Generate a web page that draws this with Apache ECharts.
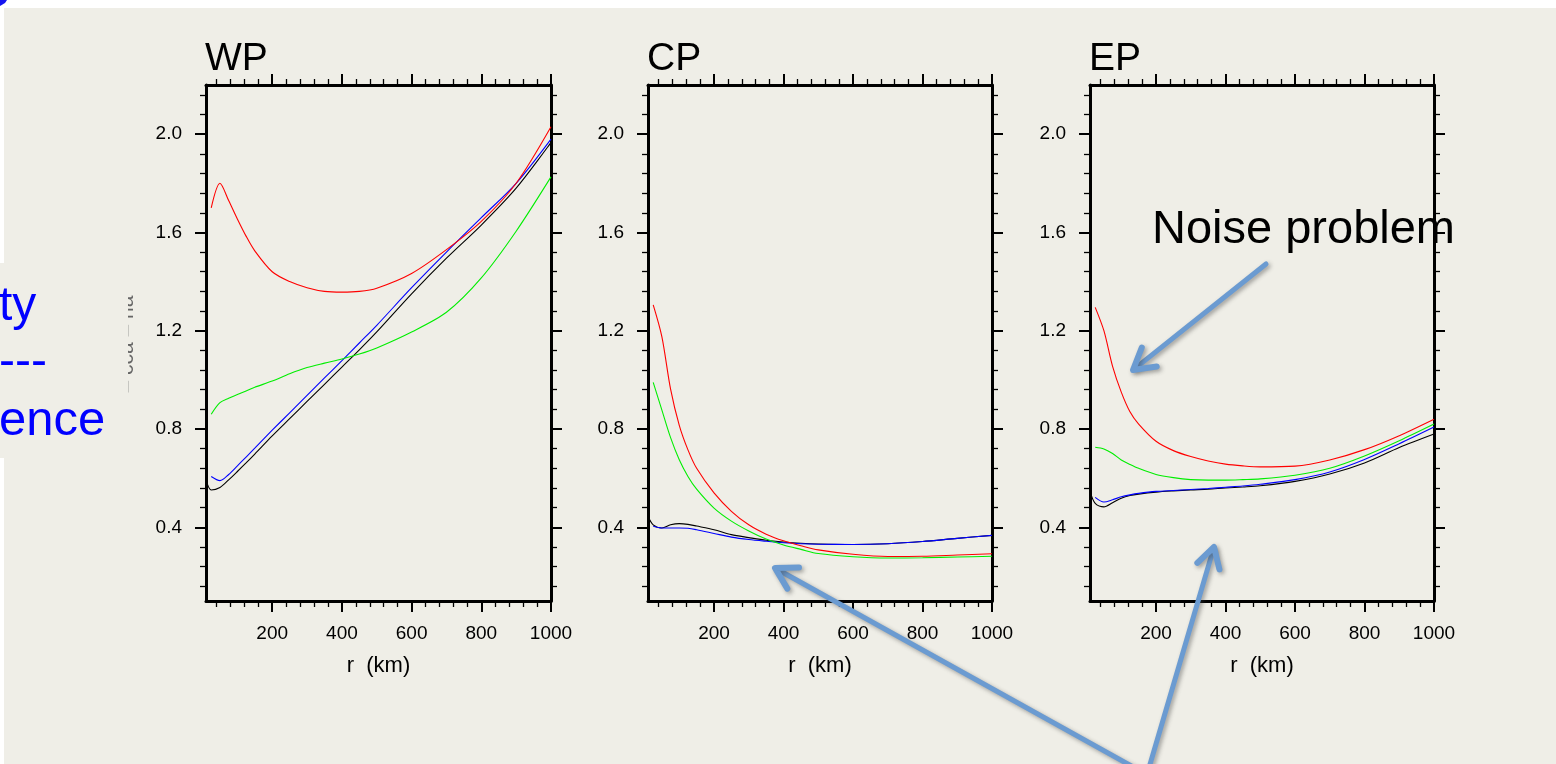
<!DOCTYPE html>
<html>
<head>
<meta charset="utf-8">
<script src="https://cdn.jsdelivr.net/npm/echarts@6/dist/echarts.min.js"></script>
<style>
  html, body { margin: 0; padding: 0; background: #EFEEE7; }
  #chart { width: 1556px; height: 764px; }
</style>
</head>
<body>
<div id="chart"></div>
<script>
// Radial profiles (r in km) for the three basins
const radiusKm = [10, 25, 50, 75, 100, 125, 150, 200, 250, 300, 350, 400, 450, 500, 600, 700, 800, 900, 1000];

const wpRed   = [null, 1.70, 1.80, 1.73, 1.655, 1.585, 1.525, 1.44, 1.40, 1.375, 1.36, 1.357, 1.36, 1.373, 1.433, 1.53, 1.645, 1.80, 2.03];
const wpGreen = [null, 0.86, 0.907, 0.925, 0.94, 0.955, 0.97, 0.995, 1.025, 1.05, 1.068, 1.085, 1.105, 1.13, 1.195, 1.275, 1.415, 1.605, 1.826];
const wpBlue  = [null, 0.607, 0.59, 0.615, 0.65, 0.686, 0.722, 0.795, 0.866, 0.937, 1.008, 1.078, 1.15, 1.222, 1.375, 1.52, 1.66, 1.80, 1.98];
const wpBlack = [0.594, 0.552, 0.562, 0.593, 0.627, 0.662, 0.698, 0.772, 0.842, 0.912, 0.982, 1.052, 1.122, 1.195, 1.35, 1.495, 1.63, 1.78, 1.966];

const cpRed   = [null, 1.305, 1.175, 0.962, 0.815, 0.715, 0.64, 0.54, 0.465, 0.41, 0.372, 0.345, 0.325, 0.308, 0.29, 0.281, 0.282, 0.287, 0.292];
const cpGreen = [null, 0.99, 0.877, 0.765, 0.675, 0.607, 0.555, 0.478, 0.425, 0.385, 0.352, 0.328, 0.31, 0.293, 0.28, 0.275, 0.276, 0.279, 0.282];
const cpBlue  = [null, 0.404, 0.397, 0.397, 0.397, 0.396, 0.39, 0.375, 0.36, 0.35, 0.343, 0.337, 0.333, 0.331, 0.33, 0.333, 0.342, 0.355, 0.367];
const cpBlack = [0.445, 0.41, 0.397, 0.41, 0.415, 0.412, 0.405, 0.39, 0.37, 0.358, 0.347, 0.34, 0.335, 0.332, 0.33, 0.333, 0.342, 0.355, 0.367];

const epRed   = [null, 1.295, 1.20, 1.055, 0.95, 0.87, 0.82, 0.75, 0.712, 0.688, 0.67, 0.657, 0.65, 0.646, 0.649, 0.674, 0.716, 0.773, 0.84];
const epGreen = [null, 0.726, 0.719, 0.70, 0.674, 0.656, 0.64, 0.615, 0.602, 0.594, 0.592, 0.592, 0.594, 0.597, 0.612, 0.64, 0.69, 0.752, 0.82];
const epBlue  = [null, 0.522, 0.503, 0.512, 0.524, 0.532, 0.538, 0.546, 0.55, 0.554, 0.558, 0.563, 0.568, 0.575, 0.594, 0.625, 0.676, 0.74, 0.808];
const epBlack = [0.546, 0.497, 0.483, 0.50, 0.518, 0.529, 0.535, 0.543, 0.548, 0.552, 0.555, 0.56, 0.564, 0.569, 0.587, 0.617, 0.662, 0.725, 0.78];

const panelNames = ['WP', 'CP', 'EP'];
const xMajorTicks = [200, 400, 600, 800, 1000];
const xMinorTicks = [40, 80, 120, 160, 240, 280, 320, 360, 440, 480, 520, 560, 640, 680, 720, 760, 840, 880, 920, 960];
const yMajorTicks = [0.4, 0.8, 1.2, 1.6, 2.0];
const yMinorTicks = [0.16, 0.24, 0.32, 0.48, 0.56, 0.64, 0.72, 0.88, 0.96, 1.04, 1.12, 1.28, 1.36, 1.44, 1.52, 1.68, 1.76, 1.84, 1.92, 2.08, 2.16];

const panelSeries = [
  { black: wpBlack, blue: wpBlue, green: wpGreen, red: wpRed },
  { black: cpBlack, blue: cpBlue, green: cpGreen, red: cpRed },
  { black: epBlack, blue: epBlue, green: epGreen, red: epRed }
];
const lineColors = { black: '#000000', blue: '#0000FF', green: '#00EE00', red: '#FF0000' };

const FONT = '"Liberation Sans", Arial, Helvetica, sans-serif';
const BG = '#EFEEE7';
const ARROW = '#6B9BD1';

const gridLeft = [206, 648, 1090];
const gridWidth = [345, 344, 344];

const grids = gridLeft.map((l, i) => ({ left: l, top: 85, width: gridWidth[i], height: 516, containLabel: false }));

function tickAxis(kind, g, position, major) {
  const isX = kind === 'x';
  const ax = {
    gridIndex: g,
    type: 'value',
    position: position,
    min: isX ? 10 : 0.1,
    max: isX ? 1000 : 2.2,
    splitLine: { show: false },
    axisLine: { show: major, onZero: false, lineStyle: { color: '#000', width: 3 } },
    axisTick: {
      show: true,
      inside: false,
      customValues: major ? (isX ? xMajorTicks : yMajorTicks) : (isX ? xMinorTicks : yMinorTicks),
      length: major ? 11 : 6,
      lineStyle: { color: '#000', width: major ? 2 : 1.3 }
    },
    axisLabel: { show: false }
  };
  const labelled = major && (position === 'bottom' || position === 'left');
  if (labelled) {
    ax.axisLabel = {
      show: true,
      customValues: isX ? xMajorTicks : yMajorTicks,
      margin: isX ? 23 : 24,
      fontSize: 19,
      fontFamily: FONT,
      color: '#000',
      formatter: isX ? (v) => String(Math.round(v)) : (v) => v.toFixed(1)
    };
  }
  if (isX && labelled) {
    ax.name = 'r  (km)';
    ax.nameLocation = 'middle';
    ax.nameGap = 54;
    ax.nameTextStyle = { fontSize: 22, fontFamily: FONT, color: '#000' };
  }
  return ax;
}

const xAxes = [], yAxes = [], series = [];
for (let g = 0; g < 3; g++) {
  xAxes.push(tickAxis('x', g, 'bottom', true), tickAxis('x', g, 'bottom', false),
             tickAxis('x', g, 'top', true), tickAxis('x', g, 'top', false));
  yAxes.push(tickAxis('y', g, 'left', true), tickAxis('y', g, 'left', false),
             tickAxis('y', g, 'right', true), tickAxis('y', g, 'right', false));
  ['black', 'blue', 'green', 'red'].forEach((c) => {
    const vals = panelSeries[g][c];
    series.push({
      name: panelNames[g] + ' ' + c,
      type: 'line',
      xAxisIndex: g * 4,
      yAxisIndex: g * 4,
      data: radiusKm.map((r, i) => [r, vals[i]]).filter((p) => p[1] !== null),
      symbol: 'none',
      smooth: 0.3,
      clip: true,
      silent: true,
      lineStyle: { color: lineColors[c], width: 1.1 }
    });
  });
}

// arrow with an open chevron head
function arrow(tail, tip, headLen) {
  const dx = tail[0] - tip[0], dy = tail[1] - tip[1];
  const len = Math.hypot(dx, dy);
  const ux = dx / len, uy = dy / len;
  const a = Math.PI / 6;
  const arm = (s) => [tip[0] + headLen * (ux * Math.cos(s * a) - uy * Math.sin(s * a)),
                      tip[1] + headLen * (ux * Math.sin(s * a) + uy * Math.cos(s * a))];
  const style = { stroke: ARROW, lineWidth: 5, lineCap: 'round', lineJoin: 'round', fill: null,
                  shadowBlur: 4, shadowColor: 'rgba(60,60,60,0.45)', shadowOffsetX: 2, shadowOffsetY: 2 };
  return [
    { type: 'polyline', z: 20, shape: { points: [tail, [tip[0] + ux * 3, tip[1] + uy * 3]] }, style: style },
    { type: 'polyline', z: 20, shape: { points: [arm(1), tip, arm(-1)] }, style: Object.assign({}, style, { lineWidth: 6 }) }
  ];
}

const graphics = [
  // white page margins
  { type: 'rect', z: 1, shape: { x: 0, y: 0, width: 1556, height: 8 }, style: { fill: '#FFFFFF' } },
  { type: 'rect', z: 1, shape: { x: 0, y: 0, width: 4, height: 263 }, style: { fill: '#FFFFFF' } },
  { type: 'rect', z: 1, shape: { x: 0, y: 458, width: 4, height: 306 }, style: { fill: '#FFFFFF' } },
  { type: 'polygon', z: 2, shape: { points: [[0, 0], [7, 0], [5, 3], [0, 6]] }, style: { fill: '#1515F0' } },
  // partly hidden vertical caption
  { type: 'text', z: 3, x: 138, y: 344, rotation: Math.PI / 2,
    style: { text: '– cca – na', font: '21px ' + FONT, fill: '#666', align: 'center', verticalAlign: 'bottom' } },
  { type: 'rect', z: 4, shape: { x: 0, y: 263, width: 128, height: 195 }, style: { fill: BG } },
  // blue side text
  { type: 'text', z: 5, x: -1, y: 307, style: { text: 'ty', font: '48px ' + FONT, fill: '#0000FF', align: 'left', verticalAlign: 'middle' } },
  { type: 'text', z: 5, x: -1, y: 363, style: { text: '---', font: '48px ' + FONT, fill: '#0000FF', align: 'left', verticalAlign: 'middle' } },
  { type: 'text', z: 5, x: -1, y: 421, style: { text: 'ence', font: '49px ' + FONT, fill: '#0000FF', align: 'left', verticalAlign: 'middle' } },
  // annotation
  { type: 'text', z: 15, x: 1152, y: 230, style: { text: 'Noise problem', font: '47px ' + FONT, fill: '#000', align: 'left', verticalAlign: 'middle' } }
];
panelNames.forEach((n, i) => {
  graphics.push({ type: 'text', z: 5, x: gridLeft[i] - 1, y: 59,
    style: { text: n, font: '39px ' + FONT, fill: '#000', align: 'left', verticalAlign: 'middle' } });
});
graphics.push(...arrow([1266, 264], [1133, 370], 24));
graphics.push(...arrow([1153, 778], [775, 568], 24));
graphics.push(...arrow([1146, 778], [1214, 547], 23));

const chart = echarts.init(document.getElementById('chart'), null, { renderer: 'canvas' });
chart.setOption({
  backgroundColor: BG,
  animation: false,
  grid: grids,
  xAxis: xAxes,
  yAxis: yAxes,
  series: series,
  graphic: graphics
});
</script>
</body>
</html>
